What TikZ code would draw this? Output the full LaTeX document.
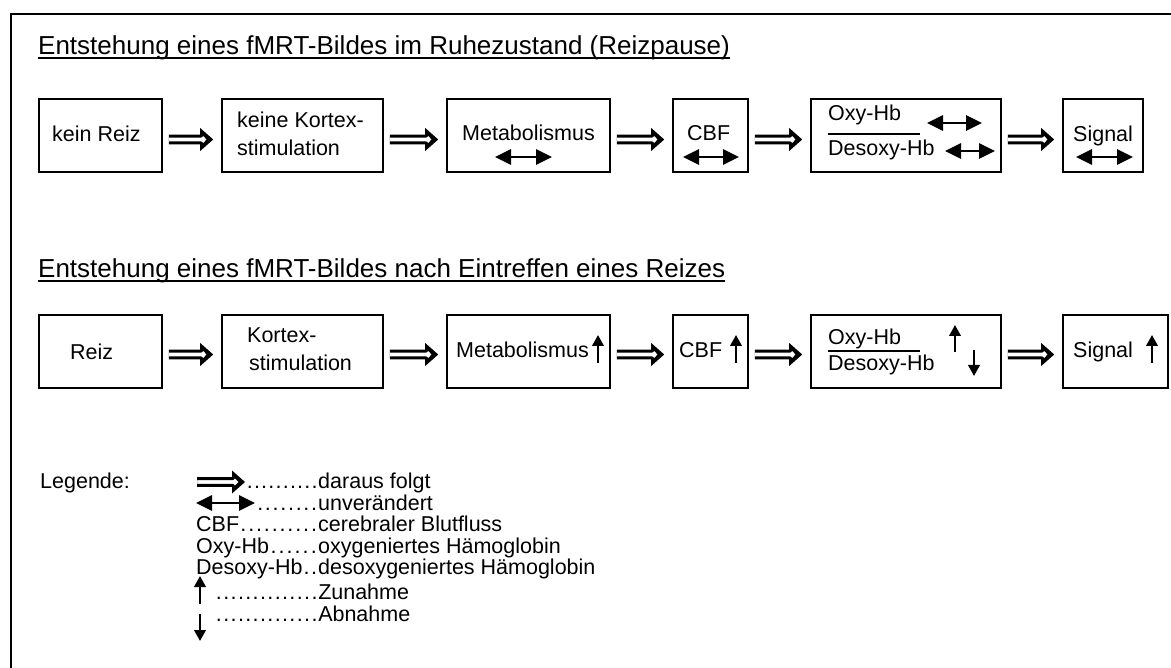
\documentclass[tikz,border=0pt]{standalone}
\usepackage{fontspec}
\setmainfont{Liberation Sans}
\usetikzlibrary{arrows.meta,calc}
\newcommand{\dotlead}{\xleaders\hbox to 7.2pt{\hss.\hskip0.6pt}\hfill}
\begin{document}
\begin{tikzpicture}[x=1pt,y=-1pt,
  box/.style={draw, line width=1.6pt, inner sep=0pt},
  txt/.style={anchor=base west, inner sep=0pt, font=\fontsize{21.5}{28}\selectfont},
  ltxt/.style={anchor=base west, inner sep=0pt, font=\fontsize{21.5}{22}\selectfont},
  ttl/.style={anchor=base west, inner sep=0pt, font=\fontsize{26}{30}\selectfont},
  impl/.style 2 args={fill=black, even odd rule, to path={
    let \p1=(\tikztostart), \p2=(\tikztotarget) in
    ({\x1+#1},{\y1+4.9pt}) -- ({\x2-#2-13pt},{\y1+4.9pt}) -- ({\x2-#2-13pt},{\y1+11.5pt})
      -- ({\x2-#2},\y1) -- ({\x2-#2-13pt},{\y1-11.5pt}) -- ({\x2-#2-13pt},{\y1-4.9pt})
      -- ({\x1+#1},{\y1-4.9pt}) -- cycle
    ({\x1+#1},{\y1+1.8pt}) -- ({\x2-#2-12pt},{\y1+1.8pt}) -- ({\x2-#2-10pt},{\y1+3.6pt})
      -- ({\x2-#2-6.5pt},\y1) -- ({\x2-#2-10pt},{\y1-3.6pt}) -- ({\x2-#2-12pt},{\y1-1.8pt})
      -- ({\x1+#1},{\y1-1.8pt}) -- cycle}},
  lr/.style={line width=2.8pt, {Triangle[length=16pt,width=15pt]}-{Triangle[length=16pt,width=15pt]}},
  up/.style={line width=2.2pt, -{Triangle[length=11pt,width=11.5pt]}},
  frac/.style={line width=1.2pt},
  uline/.style={line width=1.4pt}]
\useasboundingbox (0,0) rectangle (1171,668);
\draw[line width=1.8pt] (1171,14) -- (11,14) -- (11,668);

% titles
\node[ttl] (t1) at (38,55) {Entstehung eines fMRT-Bildes im Ruhezustand (Reizpause)};
\draw[uline] ([yshift=-3pt]t1.base west) -- ([yshift=-3pt]t1.base east);
\node[ttl] (t2) at (38,278) {Entstehung eines fMRT-Bildes nach Eintreffen eines Reizes};
\draw[uline] ([yshift=-3pt]t2.base west) -- ([yshift=-3pt]t2.base east);

% row 1 boxes
\node[box, minimum width=123pt, minimum height=73pt] (a1) at (100.5,135.5) {};
\node[box, minimum width=161pt, minimum height=73pt] (a2) at (302.5,135.5) {};
\node[box, minimum width=163pt, minimum height=73pt] (a3) at (528.5,135.5) {};
\node[box, minimum width=75pt, minimum height=73pt] (a4) at (710.5,135.5) {};
\node[box, minimum width=190pt, minimum height=73pt] (a5) at (906,135.5) {};
\node[box, minimum width=80pt, minimum height=73pt] (a6) at (1103,135.5) {};

\node[txt] (a1t) at (52,141.5) {kein Reiz};
\node[txt] (a2t) at (237,127.5) {keine Kortex-};
\node[txt] (a2u) at (237,155.5) {stimulation};
\node[txt] (a3t) at (462,140.5) {Metabolismus};
\node[txt] (a4t) at (687,140.5) {CBF};
\node[txt] (a5t) at (828,121) {Oxy-Hb};
\node[txt] (a5u) at (828,155.5) {Desoxy-Hb};
\node[txt] (a6t) at (1073,141.5) {Signal};
\draw[frac] (828,134) -- (920,134);
\draw[lr] (495,157) -- (552,157);
\draw[lr] (683,157) -- (739,157);
\draw[lr] (927,123) -- (982,123);
\draw[lr] (945,151) -- (995,151);
\draw[lr] (1076,157) -- (1133,157);

\foreach \i/\j in {1/2,2/3,3/4,4/5,5/6}
  \path[impl={6pt}{8pt}] ([yshift=-4pt]a\i.east) to ([yshift=-4pt]a\j.west);

% row 2 boxes
\node[box, minimum width=123pt, minimum height=73pt] (b1) at (100.5,351.5) {};
\node[box, minimum width=161pt, minimum height=73pt] (b2) at (302.5,351.5) {};
\node[box, minimum width=163pt, minimum height=73pt] (b3) at (528.5,351.5) {};
\node[box, minimum width=75pt, minimum height=73pt] (b4) at (710.5,351.5) {};
\node[box, minimum width=190pt, minimum height=73pt] (b5) at (906,351.5) {};
\node[box, minimum width=105pt, minimum height=73pt] (b6) at (1115.5,351.5) {};

\node[txt] (b1t) at (70,359.5) {Reiz};
\node[txt] (b2t) at (247,342.5) {Kortex-};
\node[txt] (b2u) at (249,370.5) {stimulation};
\node[txt] (b3t) at (456,357.5) {Metabolismus};
\node[txt] (b4t) at (679,357.5) {CBF};
\node[txt] (b5t) at (828,344.5) {Oxy-Hb};
\node[txt] (b5u) at (828,370.5) {Desoxy-Hb};
\node[txt] (b6t) at (1073,357.5) {Signal};
\draw[frac] (828,351) -- (920,351);
\draw[up] (598,363) -- (598,335);
\draw[up] (736,363) -- (736,335);
\draw[up] (955,352) -- (955,325);
\draw[up] (974,350) -- (974,376);
\draw[up] (1152,363) -- (1152,335);

\foreach \i/\j in {1/2,2/3,3/4,4/5,5/6}
  \path[impl={6pt}{8pt}] ([yshift=-3pt]b\i.east) to ([yshift=-3pt]b\j.west);

% legend
\node[ltxt] (lg) at (40,488.5) {Legende:};
\node[ltxt] (l1) at (196,488.5) {\hbox to 122pt{\hskip 50pt\dotlead}daraus folgt};
\node[ltxt] (l2) at (196,510) {\hbox to 122pt{\hskip 60pt\dotlead}unverändert};
\node[ltxt] (l3) at (196,531.5) {\hbox to 122pt{CBF\dotlead}cerebraler Blutfluss};
\node[ltxt] (l4) at (196,553) {\hbox to 122pt{Oxy-Hb\dotlead}oxygeniertes Hämoglobin};
\node[ltxt] (l5) at (196,574.5) {\hbox to 122pt{Desoxy-Hb\dotlead}desoxygeniertes Hämoglobin};
\node[ltxt] (l6) at (196,599.5) {\hbox to 122pt{\hskip 19pt\dotlead}Zunahme};
\node[ltxt] (l7) at (196,621.5) {\hbox to 122pt{\hskip 19pt\dotlead}Abnahme};
\coordinate (li0) at (197,482);
\coordinate (li1) at (245,482);
\path[impl={0pt}{0pt}] (li0) to (li1);
\draw[lr] (196,503) -- (255,503);
\draw[up] (200,604) -- (200,576);
\draw[up] (200,614) -- (200,641);
\end{tikzpicture}
\end{document}
